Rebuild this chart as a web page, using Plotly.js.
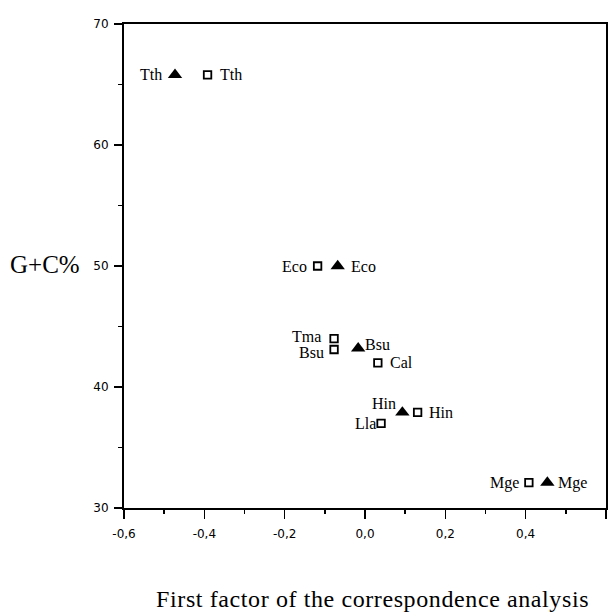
<!DOCTYPE html>
<html>
<head>
<meta charset="utf-8">
<script src="https://cdn.plot.ly/plotly-3.0.1.min.js"></script>
<style>
html,body{margin:0;padding:0;background:#fff;}
#chart .annotation[data-index="1"] text { letter-spacing: 0.6px; }
</style>
</head>
<body>
<div id="chart" style="width:611px;height:614px;"></div>
<script>
// Squares (open) series
var sqLabels = ["Tth", "Eco", "Tma", "Bsu", "Cal", "Hin", "Lla", "Mge"];
var sqX = [-0.392, -0.118, -0.077, -0.077, 0.032, 0.131, 0.040, 0.408];
var sqY = [65.8, 50.0, 44.0, 43.1, 42.0, 37.9, 37.0, 32.1];
// Triangles (filled) series
var triLabels = ["Tth", "Eco", "Bsu", "Hin", "Mge"];
var triX = [-0.473, -0.068, -0.017, 0.093, 0.454];
var triY = [65.8, 50.0, 43.2, 37.9, 32.1];
// Axis tick labels
var xTickVals = [-0.6, -0.4, -0.2, 0.0, 0.2, 0.4, 0.6];
var xTickText = ["-0,6", "-0,4", "-0,2", "0,0", "0,2", "0,4", "0,6"];
var yTickVals = [30, 40, 50, 60, 70];
var yTickText = ["30", "40", "50", "60", "70"];
var xTitle = "First factor of the correspondence analysis";
var yTitle = "G+C%";

// label placement (style): [anchor, xshift px, yshift px]
var sqPlace = [["left", 12.5, 0], ["right", -11, 0], ["right", -13, 2], ["right", -10, -3],
               ["left", 12, 0], ["left", 11, 0], ["right", -5, 0], ["right", -9.5, 0]];
var triPlace = [["right", -13, 0], ["left", 13, 0], ["left", 6.5, 4], ["right", -6.5, 8.5], ["left", 10.5, 0]];

var serif = "Liberation Serif, Times New Roman, serif";
var labelFont = {family: serif, size: 16, color: "#000"};

var traces = [
  {
    type: "scatter", mode: "markers",
    x: sqX, y: sqY,
    marker: {symbol: "square-open", size: 7.5, color: "#000", line: {width: 1.8, color: "#000"}},
    cliponaxis: false, hoverinfo: "none"
  },
  {
    type: "scatter", mode: "markers",
    x: triX, y: triY,
    marker: {symbol: "triangle-up", size: 12.5, color: "#000", line: {width: 0}},
    cliponaxis: false, hoverinfo: "none"
  }
];

var annotations = [
  {text: yTitle, xref: "paper", yref: "paper", x: -0.164, y: 0.503, xanchor: "center", yanchor: "middle",
   showarrow: false, font: {family: serif, size: 25, color: "#000"}},
  {text: xTitle, xref: "paper", yref: "paper", x: 0.515, y: -0.187, xanchor: "center", yanchor: "middle",
   showarrow: false, font: {family: serif, size: 24, color: "#000"}}
];

function addLabels(xs, ys, labels, place) {
  for (var i = 0; i < labels.length; i++) {
    annotations.push({
      text: labels[i], x: xs[i], y: ys[i], xref: "x", yref: "y",
      xanchor: place[i][0], yanchor: "middle", xshift: place[i][1], yshift: place[i][2],
      showarrow: false, borderpad: 0, borderwidth: 0, font: labelFont
    });
  }
}
addLabels(sqX, sqY, sqLabels, sqPlace);
addLabels(triX, triY, triLabels, triPlace);

var tickFont = {family: "DejaVu Sans, Liberation Sans, sans-serif", size: 12, color: "#000"};

var layout = {
  width: 611, height: 614,
  margin: {l: 124, r: 5, t: 24, b: 105.5, pad: 0},
  paper_bgcolor: "#fff", plot_bgcolor: "#fff",
  showlegend: false,
  xaxis: {
    range: [-0.6, 0.6], tickmode: "array", tickvals: xTickVals, ticktext: xTickText,
    ticks: "outside", ticklen: 9, tickwidth: 1.5, tickcolor: "#000",
    minor: {dtick: 0.1, tick0: -0.6, ticks: "outside", ticklen: 4, tickwidth: 1.5, tickcolor: "#000", showgrid: false},
    showline: true, linewidth: 2, linecolor: "#000", mirror: true,
    showgrid: false, zeroline: false, tickfont: tickFont, ticklabelstandoff: 5
  },
  yaxis: {
    range: [30, 70], tickmode: "array", tickvals: yTickVals, ticktext: yTickText,
    ticks: "outside", ticklen: 8, tickwidth: 1.5, tickcolor: "#000",
    minor: {dtick: 5, tick0: 30, ticks: "outside", ticklen: 4, tickwidth: 1.5, tickcolor: "#000", showgrid: false},
    showline: true, linewidth: 2, linecolor: "#000", mirror: true,
    showgrid: false, zeroline: false, tickfont: tickFont, ticklabelstandoff: 3
  },
  annotations: annotations
};

Plotly.newPlot("chart", traces, layout, {staticPlot: true, displayModeBar: false});
</script>
</body>
</html>
